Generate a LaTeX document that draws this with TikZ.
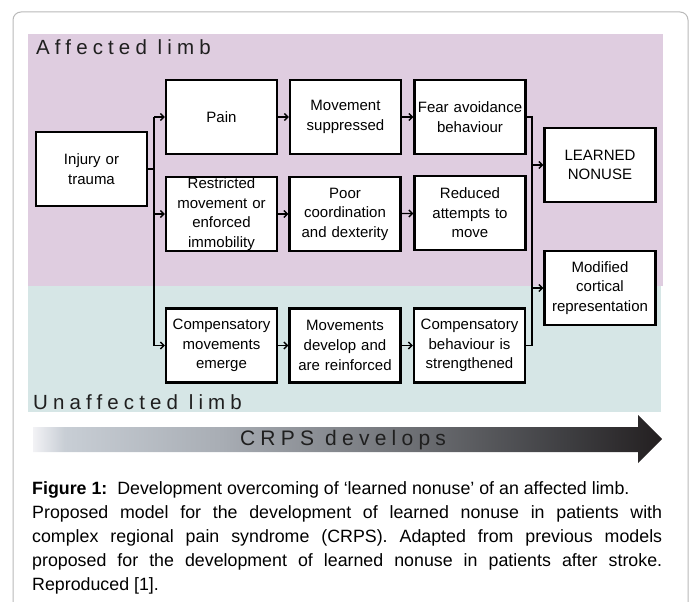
\documentclass[tikz,border=0pt]{standalone}
\usepackage{fontspec}
\setmainfont{Liberation Sans}
\newfontfamily\spacedfont[LetterSpace=25]{Liberation Sans}
\usetikzlibrary{arrows.meta}
\definecolor{limbpurple}{RGB}{223,205,224}
\definecolor{limbteal}{RGB}{214,230,230}
\definecolor{framegray}{RGB}{185,185,185}
\definecolor{barA}{RGB}{242,242,245}
\definecolor{barB}{RGB}{200,206,213}
\definecolor{barC}{RGB}{168,173,180}
\definecolor{barD}{RGB}{62,62,65}
\definecolor{barE}{RGB}{35,31,32}
% path covers 25bp..75bp of the shading
\pgfdeclarehorizontalshading{crpsbar}{100bp}{color(0bp)=(barA); color(25bp)=(barA);
  color(27.5bp)=(barB); color(40bp)=(barC); color(67.5bp)=(barD);
  color(75bp)=(barE); color(100bp)=(barE)}

\begin{document}
\begin{tikzpicture}[
  x=1pt, y=-1pt,
  every node/.style={font=\fontsize{15}{19.6}\selectfont},
  stage/.style={draw, line width=2.3pt, fill=white, minimum width=111pt,
                minimum height=74pt, text width=110pt, align=center, inner sep=0pt},
  wire/.style={line width=1.4pt},
  link/.style={line width=1.4pt, -{Straight Barb[length=3.5pt, width=7pt]}},
  limb/.style={font=\spacedfont\fontsize{20.5}{24}\selectfont, text=black!88, inner sep=0pt}
]
\useasboundingbox (0,0) rectangle (694,602);

% frame and the two limb bands
\draw[framegray, line width=1pt, rounded corners=8pt] (13,650) -- (13,12) -- (688,12) -- (688,650);
\fill[limbpurple] (28,34) rectangle (663,286);
\fill[limbteal] (28,286) rectangle (661,412);
\node[limb, anchor=base west] (affected) at (36,55) {Affected limb};
\node[limb, anchor=base west] (unaffected) at (33,409) {Unaffected limb};

% stages
\node[stage] (injury)   at (91.5,169)  {Injury or\\trauma};
\node[stage] (pain)     at (221.5,117) {Pain};
\node[stage] (suppr)    at (345.5,117) {Movement\\suppressed};
\node[stage] (fear)     at (470,117)   {Fear avoidance\\behaviour};
\node[stage] (restrict) at (221.5,214) {Restricted\\movement or\\enforced\\immobility};
\node[stage] (coord)    at (345,214)   {Poor\\coordination\\and dexterity};
\node[stage] (reduced)  at (470,213)   {Reduced\\attempts to\\move};
\node[stage] (compmov)  at (221.5,345.5) {Compensatory\\movements\\emerge};
\node[stage] (develop)  at (345,345.5) {Movements\\develop and\\are reinforced};
\node[stage] (compbeh)  at (469.5,345.5) {Compensatory\\behaviour is\\strengthened};
\node[stage] (nonuse)   at (600,165)   {LEARNED\\NONUSE};
\node[stage] (cortical) at (600,288)   {Modified\\cortical\\representation};

% connectors
\coordinate (split) at (154,169);
\coordinate (merge) at (532,117);
\draw[wire] (injury.east) -- (split);
\draw[wire] (split |- pain.west) -- (split |- compmov.west);
\foreach \dst in {pain, restrict, compmov}
  \draw[link] (split |- \dst.west) -- (\dst.west);
\draw[link] (pain) -- (suppr);
\draw[link] (suppr) -- (fear);
\draw[link] (restrict) -- (coord);
\draw[link] (coord) -- (reduced);
\draw[link] (compmov) -- (develop);
\draw[link] (develop) -- (compbeh);
\draw[wire] (fear.east) -- (merge) -- (merge |- compbeh.east) -- (compbeh.east);
\foreach \dst in {nonuse, cortical}
  \draw[link] (merge |- \dst.west) -- (\dst.west);

% CRPS arrow
\shade[shading=crpsbar] (33,427) -- (638,427) -- (638,415) -- (662,439)
  -- (638,463) -- (638,452) -- (33,452) -- cycle;
\node[limb, font=\spacedfont\fontsize{21}{24}\selectfont] (crps) at (343,440) {CRPS develops};

% caption
\node[anchor=north west, inner sep=0pt, text width=630pt, align=justify,
      font=\fontsize{17.8}{24.2}\selectfont] (caption) at (32,481)
  {\noindent\textbf{Figure 1:}\ \ Development overcoming of ‘learned nonuse’ of an affected limb.\\
   Proposed model for the development of learned nonuse in patients with\linebreak
   complex regional pain syndrome (CRPS). Adapted from previous models\linebreak
   proposed for the development of learned nonuse in patients after stroke.\linebreak
   Reproduced [1].};
\end{tikzpicture}
\end{document}
